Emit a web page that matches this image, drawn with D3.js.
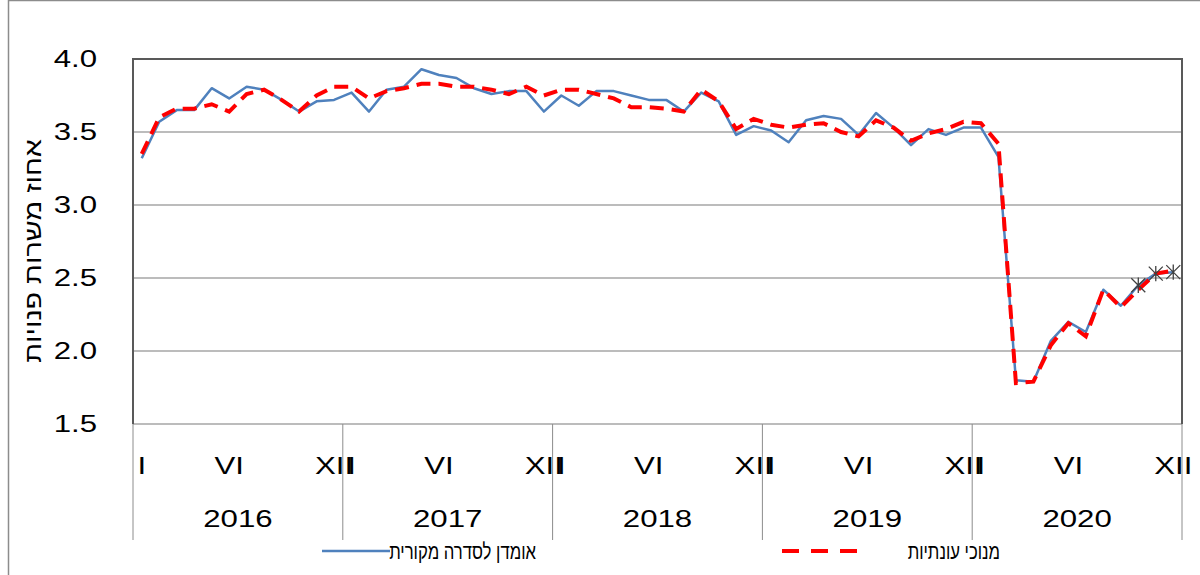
<!DOCTYPE html>
<html>
<head>
<meta charset="utf-8">
<script src="https://cdn.jsdelivr.net/npm/d3@7"></script>
<style>
  body { margin: 0; background: #fff; }
  text { font-family: "Liberation Sans", Arial, sans-serif; fill: #000; }
</style>
</head>
<body>
<svg width="1200" height="575"></svg>
<script>
// data
var years = [2016, 2017, 2018, 2019, 2020];
var months = ["I", "II", "III", "IV", "V", "VI", "VII", "VIII", "IX", "X", "XI", "XII"];
var shownMonths = ["I", "VI", "XII"];
var yTicks = [1.5, 2.0, 2.5, 3.0, 3.5, 4.0];

// אומדן לסדרה מקורית
var original = [
  3.32, 3.57, 3.65, 3.65, 3.80, 3.73, 3.81, 3.79, 3.72, 3.64, 3.71, 3.72,
  3.77, 3.64, 3.79, 3.81, 3.93, 3.89, 3.87, 3.80, 3.76, 3.78, 3.78, 3.64,
  3.75, 3.68, 3.78, 3.78, 3.75, 3.72, 3.72, 3.64, 3.77, 3.71, 3.48, 3.54,
  3.51, 3.43, 3.58, 3.61, 3.59, 3.48, 3.63, 3.53, 3.41, 3.52, 3.48, 3.53,
  3.53, 3.33, 1.80, 1.79, 2.07, 2.20, 2.13, 2.42, 2.31, 2.45, 2.53, 2.54
];
// מנוכי עונתיות
var seasonal = [
  3.35, 3.60, 3.66, 3.66, 3.69, 3.64, 3.76, 3.79, 3.72, 3.64, 3.75, 3.81,
  3.81, 3.73, 3.78, 3.80, 3.83, 3.83, 3.81, 3.81, 3.79, 3.76, 3.81, 3.75,
  3.79, 3.79, 3.76, 3.73, 3.67, 3.67, 3.66, 3.64, 3.79, 3.71, 3.52, 3.59,
  3.55, 3.53, 3.55, 3.56, 3.50, 3.47, 3.58, 3.53, 3.44, 3.49, 3.52, 3.57,
  3.56, 3.42, 1.78, 1.79, 2.04, 2.19, 2.10, 2.42, 2.30, 2.42, 2.53, 2.55
];
// last three months are marked (preliminary)
var markedCount = 3;

var svg = d3.select("svg");
var plotLeft = 133, plotRight = 1182, plotTop = 59, plotBottom = 424;
// the original picture is a bit wider than tall, so text is stretched
var stretch = 1.3;

var keys = [];
years.forEach(function (yr) {
  months.forEach(function (m) { keys.push(yr + "-" + m); });
});

var x = d3.scaleBand().domain(keys).range([plotLeft, plotRight]);
var y = d3.scaleLinear().domain([1.5, 4.0]).range([plotBottom, plotTop]);

function place(px, py, sx) {
  return "translate(" + px + "," + py + ") scale(" + sx + ",1)";
}

// outer chart frame
svg.append("rect")
  .attr("x", 8.5).attr("y", 0.5)
  .attr("width", 1300).attr("height", 700)
  .attr("fill", "none")
  .attr("stroke", "#8c8c8c")
  .attr("stroke-width", 1.5);

// gridlines
svg.append("g")
  .selectAll("line")
  .data(yTicks.slice(1, -1))
  .enter()
  .append("line")
  .attr("x1", plotLeft).attr("x2", plotRight)
  .attr("y1", function (d) { return y(d); })
  .attr("y2", function (d) { return y(d); })
  .attr("stroke", "#a6a6a6")
  .attr("stroke-width", 1.5);

// bottom axis line
svg.append("line")
  .attr("x1", plotLeft).attr("x2", plotRight)
  .attr("y1", y(1.5)).attr("y2", y(1.5))
  .attr("stroke", "#a6a6a6")
  .attr("stroke-width", 1.5);

// plot border: top, left, right
svg.append("path")
  .attr("d", "M" + plotLeft + "," + y(1.5) + "V" + y(4.0) + "H" + plotRight + "V" + y(1.5))
  .attr("fill", "none")
  .attr("stroke", "#595959")
  .attr("stroke-width", 2);

// year separators
var sepX = years.map(function (yr) { return x(yr + "-I"); }).concat([plotRight]);
svg.append("g")
  .selectAll("line")
  .data(sepX)
  .enter()
  .append("line")
  .attr("x1", function (d) { return d; })
  .attr("x2", function (d) { return d; })
  .attr("y1", y(1.5)).attr("y2", 540)
  .attr("stroke", "#8c8c8c")
  .attr("stroke-width", 1);

// y tick labels
svg.append("g")
  .selectAll("text")
  .data(yTicks)
  .enter()
  .append("text")
  .attr("transform", function (d) { return place(97, y(d), stretch); })
  .attr("dy", "0.35em")
  .attr("text-anchor", "end")
  .attr("font-size", "24px")
  .text(function (d) { return d.toFixed(1); });

// y title
svg.append("text")
  .attr("transform", "translate(41,251) rotate(-90) scale(1.25,1)")
  .attr("text-anchor", "middle")
  .attr("font-size", "23px")
  .text("אחוז  משרות פנויות");

// month labels
var monthKeys = keys.filter(function (k) {
  return shownMonths.indexOf(k.split("-")[1]) >= 0;
});
svg.append("g")
  .selectAll("text")
  .data(monthKeys)
  .enter()
  .append("text")
  .attr("transform", function (d) {
    return place(x(d) + x.bandwidth() / 2, 474, stretch);
  })
  .attr("text-anchor", "middle")
  .attr("font-size", "24px")
  .text(function (d) { return d.split("-")[1]; });

// year labels
svg.append("g")
  .selectAll("text")
  .data(years)
  .enter()
  .append("text")
  .attr("transform", function (d) {
    return place(x(d + "-I") + x.bandwidth() * 6, 527, stretch);
  })
  .attr("text-anchor", "middle")
  .attr("font-size", "24px")
  .text(function (d) { return d; });

var line = d3.line()
  .x(function (d, i) { return x(keys[i]) + x.bandwidth() / 2; })
  .y(function (d) { return y(d); });

svg.append("path")
  .datum(original)
  .attr("d", line)
  .attr("fill", "none")
  .attr("stroke", "#4f81bd")
  .attr("stroke-width", 2.5)
  .attr("stroke-linejoin", "round");

svg.append("path")
  .datum(seasonal)
  .attr("d", line)
  .attr("fill", "none")
  .attr("stroke", "#ff0000")
  .attr("stroke-width", 4)
  .attr("stroke-dasharray", "14,8");

// star markers on the last points
function star(cx, cy, r) {
  var p = d3.path();
  p.moveTo(cx - r, cy - r); p.lineTo(cx + r, cy + r);
  p.moveTo(cx - r, cy + r); p.lineTo(cx + r, cy - r);
  p.moveTo(cx, cy - r * 1.1); p.lineTo(cx, cy + r * 1.1);
  return p.toString();
}
var n = original.length;
svg.append("g")
  .selectAll("path")
  .data(d3.range(n - markedCount, n))
  .enter()
  .append("path")
  .attr("d", function (i) {
    return star(x(keys[i]) + x.bandwidth() / 2, y(original[i]), 7);
  })
  .attr("fill", "none")
  .attr("stroke", "#404040")
  .attr("stroke-width", 1.3);

// legend
var lg = svg.append("g");
lg.append("line")
  .attr("x1", 322).attr("x2", 390)
  .attr("y1", 551).attr("y2", 551)
  .attr("stroke", "#4f81bd")
  .attr("stroke-width", 2.5);
lg.append("text")
  .attr("transform", place(536, 559, 0.76))
  .attr("text-anchor", "end")
  .attr("font-size", "22px")
  .text("אומדן לסדרה מקורית");
lg.append("line")
  .attr("x1", 782).attr("x2", 860)
  .attr("y1", 551).attr("y2", 551)
  .attr("stroke", "#ff0000")
  .attr("stroke-width", 4)
  .attr("stroke-dasharray", "17,12");
lg.append("text")
  .attr("transform", place(1000, 559, 0.76))
  .attr("text-anchor", "end")
  .attr("font-size", "22px")
  .text("מנוכי עונתיות");
</script>
</body>
</html>
